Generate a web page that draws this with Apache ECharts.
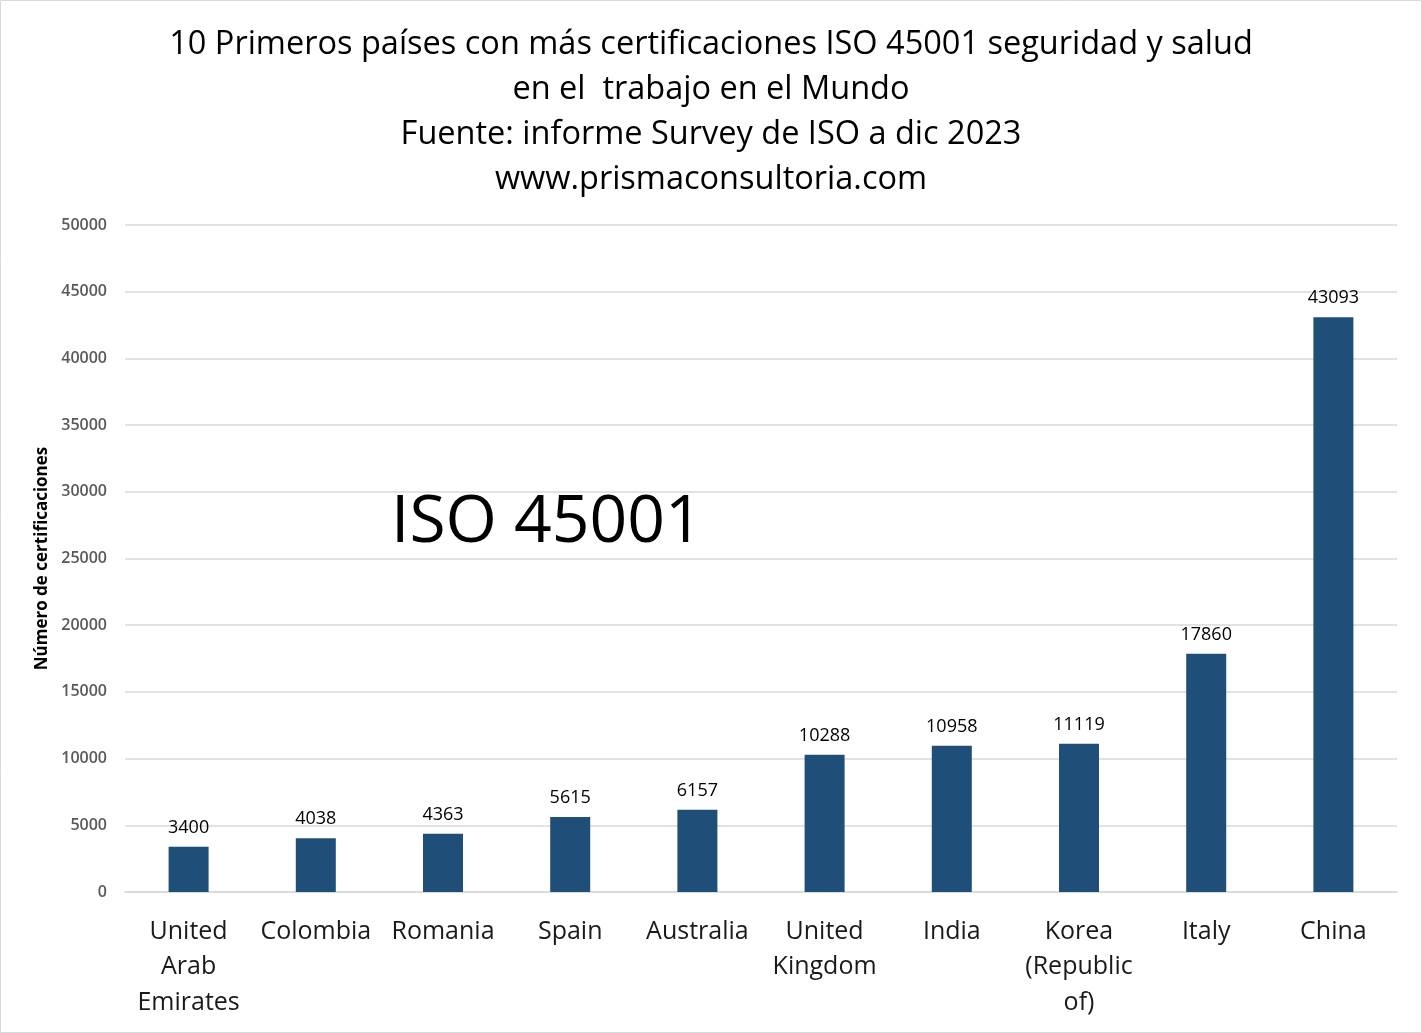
<!DOCTYPE html>
<html>
<head>
<meta charset="utf-8">
<script src="https://cdn.jsdelivr.net/npm/echarts@6/dist/echarts.min.js"></script>
<style>
html,body{margin:0;padding:0;background:#fff;}
#chart{width:1422px;height:1033px;}
</style>
</head>
<body>
<div id="chart"></div>
<script>
const titleLines = [
  "10 Primeros países con más certificaciones ISO 45001 seguridad y salud",
  "en el  trabajo en el Mundo",
  "Fuente: informe Survey de ISO a dic 2023",
  "www.prismaconsultoria.com"
];
const categories = ["United Arab Emirates","Colombia","Romania","Spain","Australia","United Kingdom","India","Korea (Republic of)","Italy","China"];
const certifications = [3400,4038,4363,5615,6157,10288,10958,11119,17860,43093];
const yAxisName = "Número de certificaciones";
const overlayText = "ISO 45001";

const chart = echarts.init(document.getElementById('chart'));
chart.setOption({
  backgroundColor: '#ffffff',
  animation: false,
  title: {
    text: titleLines.join('\n'),
    left: 'center',
    top: 17,
    textStyle: {fontFamily: 'Open Sans', fontSize: 32.5, fontWeight: 'normal', color: '#000', lineHeight: 45}
  },
  graphic: [
    {type: 'rect', shape: {x: 0.5, y: 0.5, width: 1421, height: 1032}, style: {fill: 'none', stroke: '#d9d9d9', lineWidth: 1}, silent: true},
    {type: 'text', left: 391, top: 490, style: {text: overlayText, font: '66px "Open Sans"', fill: '#000'}, z: 10}
  ],
  grid: {left: 125, right: 25, top: 225, bottom: 141},
  xAxis: {
    type: 'category',
    data: categories,
    axisLine: {lineStyle: {color: '#d9d9d9', width: 1.5}},
    axisTick: {show: false},
    axisLabel: {
      interval: 0,
      margin: 22,
      fontFamily: 'Open Sans',
      fontSize: 25,
      color: '#1a1a1a',
      lineHeight: 35.5,
      formatter: v => v.split(' ').join('\n')
    }
  },
  yAxis: {
    type: 'value',
    min: 0,
    max: 50000,
    interval: 5000,
    name: yAxisName,
    nameLocation: 'middle',
    nameGap: 73,
    nameTextStyle: {fontFamily: 'Open Sans', fontSize: 17, fontWeight: 'bold', color: '#000'},
    axisLine: {show: false},
    axisTick: {show: false},
    axisLabel: {margin: 18, fontFamily: 'Open Sans', fontSize: 16, fontWeight: 600, color: '#595959', formatter: v => String(v)},
    splitLine: {lineStyle: {color: '#d9d9d9', width: 1.5}}
  },
  series: [{
    type: 'bar',
    data: certifications,
    barWidth: 40,
    itemStyle: {color: '#1f4e79'},
    label: {show: true, position: 'top', distance: 10, fontFamily: 'Open Sans', fontSize: 18, color: '#000'}
  }]
});
</script>
</body>
</html>
